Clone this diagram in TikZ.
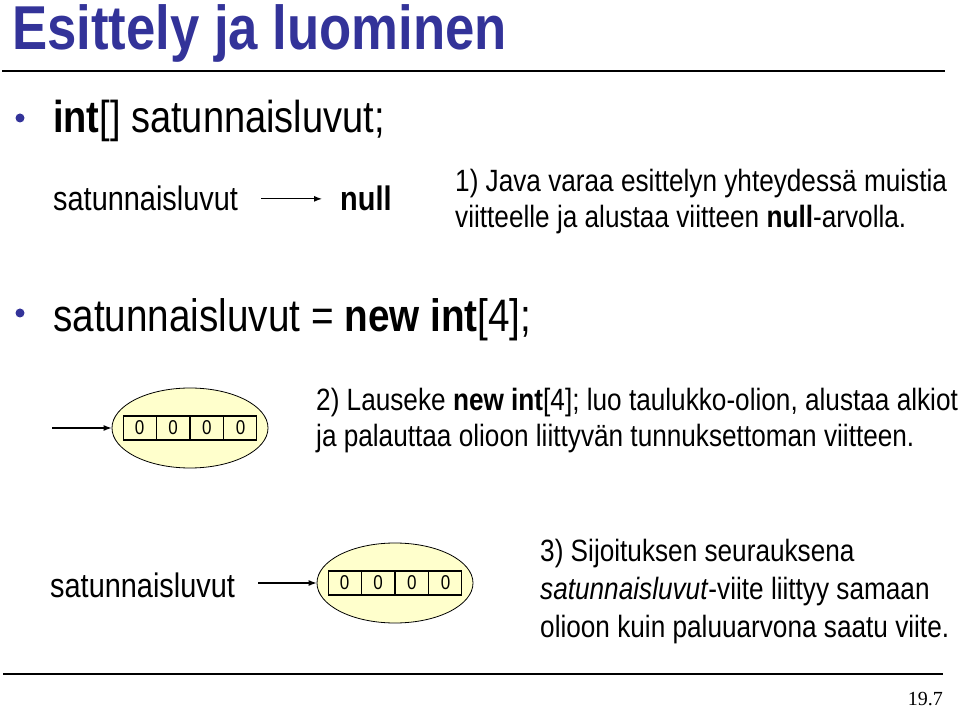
\documentclass[tikz,border=0pt]{standalone}
\usepackage{fontspec}
\setmainfont{Liberation Sans}[FakeStretch=0.85]
\newfontfamily\pagefont{Liberation Serif}
\usetikzlibrary{positioning,shapes.geometric,shapes.multipart,arrows.meta}
\definecolor{titleblue}{RGB}{51,51,153}
\definecolor{objyellow}{RGB}{255,255,204}
\tikzset{
  txt/.style={inner sep=0pt,anchor=base west},
  notetxt/.style={txt,align=left,font=\fontsize{30.8}{36.5}\selectfont},
  ref/.style={-{Latex[length=8pt,width=6pt]},line width=1.1pt},
  objnode/.style={ellipse,draw,line width=0.8pt,fill=objyellow,minimum width=156pt,minimum height=80pt,inner sep=0pt},
  arraybox/.style={rectangle split,rectangle split horizontal,rectangle split parts=4,draw,line width=1.2pt,
    inner xsep=11.5pt,inner ysep=5pt,font=\fontsize{20}{24}\selectfont},
  bulletdot/.style={circle,fill=titleblue,inner sep=0pt,minimum size=9pt}
}
\begin{document}
\begin{tikzpicture}[x=1pt,y=-1pt]
  \useasboundingbox (0,0) rectangle (959,708);
  %% title and rules
  \node[txt,font=\bfseries\fontsize{62}{70}\selectfont,text=titleblue] (title) at (12,50) {Esittely ja luominen};
  \draw[line width=1.2pt] (2,71) -- (945,71);
  \draw[line width=1.2pt] (3,674) -- (943,674);
  \node[txt,anchor=base east,font=\pagefont\fontsize{20}{24}\selectfont] (page) at (943,705) {19.7};
  %% step 1: declaration
  \node[bulletdot] (b1) at (20,118) {};
  \node[txt,font=\fontsize{44.7}{52}\selectfont] (decl) at (53,133) {\textbf{int}[] satunnaisluvut;};
  \node[txt,font=\fontsize{34}{40}\selectfont] (var1) at (53,211) {satunnaisluvut};
  \node[txt,font=\bfseries\fontsize{34}{40}\selectfont] (null1) at (340,211) {null};
  \draw[ref,shorten <=23pt,shorten >=18pt] (var1) -- (null1);
  \node[notetxt] (note1) at (455,228) {1) Java varaa esittelyn yhteydessä muistia\\viitteelle ja alustaa viitteen \textbf{null}-arvolla.};
  %% step 2: creation
  \node[bulletdot] (b2) at (20,313) {};
  \node[txt,font=\fontsize{45.5}{52}\selectfont] (create) at (53,332) {satunnaisluvut = \textbf{new int}[4];};
  \node[objnode] (obj1) at (190,428) {};
  \node[arraybox] (arr1) at (obj1) {0\nodepart{two}0\nodepart{three}0\nodepart{four}0};
  \coordinate (tail1) at (52,428);
  \draw[ref] (tail1) -- (obj1.west);
  \node[notetxt] (note2) at (316,447) {2) Lauseke \textbf{new int}[4]; luo taulukko-olion, alustaa alkiot\\ja palauttaa olioon liittyvän tunnuksettoman viitteen.};
  %% step 3: assignment
  \node[txt,font=\fontsize{34}{40}\selectfont] (var2) at (50,597) {satunnaisluvut};
  \node[objnode] (obj2) at (395,583) {};
  \node[arraybox] (arr2) at (obj2) {0\nodepart{two}0\nodepart{three}0\nodepart{four}0};
  \draw[ref,shorten <=23pt] (var2.east |- obj2.west) -- (obj2.west);
  \node[notetxt,font=\fontsize{30.8}{38}\selectfont] (note3) at (540,637) {3) Sijoituksen seurauksena\\\textit{satunnaisluvut}-viite liittyy samaan\\olioon kuin paluuarvona saatu viite.};
\end{tikzpicture}
\end{document}
